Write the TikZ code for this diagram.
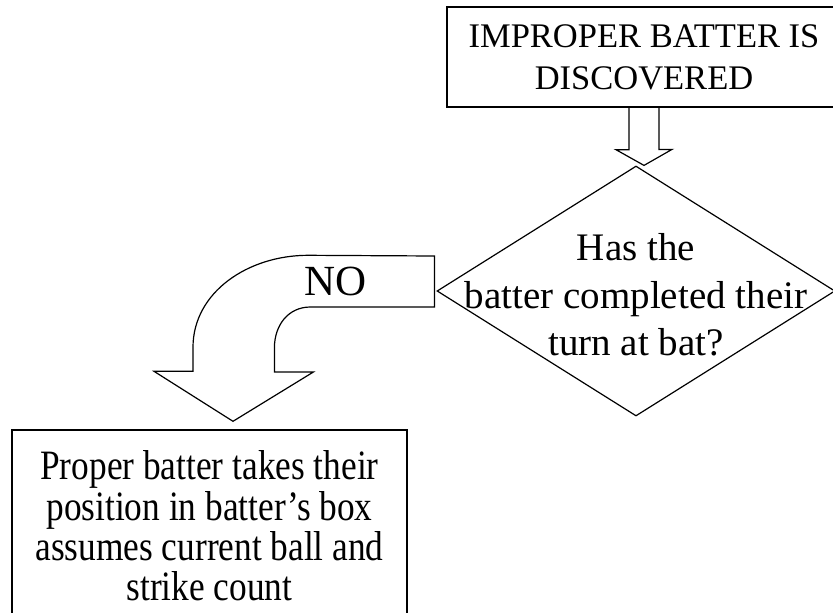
\documentclass[tikz,border=0pt]{standalone}
\usepackage{fontspec}
\setmainfont{Liberation Serif}
\newfontfamily\narrowserif[FakeStretch=0.845]{Liberation Serif}
\usetikzlibrary{positioning, calc, shapes.geometric}
\tikzset{
  flowbox/.style={draw, line width=1.4pt, align=center, inner sep=0pt},
  decision/.style={draw, diamond, line width=1.2pt, inner sep=0pt,
    minimum width=398pt, minimum height=250pt},
  blockarrow/.style={draw, line width=1.2pt, line join=miter},
  nolabel/.style={font=\fontsize{43}{50}\selectfont, inner sep=0pt},
}

\begin{document}
\begin{tikzpicture}[x=1pt, y=-1pt]
  \useasboundingbox (0,0) rectangle (833,613);
  \node[flowbox, minimum width=394pt, minimum height=100pt,
    font=\fontsize{34.5}{42}\selectfont] (start) at (644,57) {IMPROPER BATTER IS\\DISCOVERED};
  \node[decision] (check) at (636,291) {};
  \node[align=center, inner sep=0pt, font=\fontsize{39}{47.5}\selectfont]
    (checktext) at ($(check)+(0,4)$) {Has the\\batter completed their\\turn at bat?};
  \node[flowbox, minimum width=395pt, minimum height=192pt,
    font=\narrowserif\fontsize{41.8}{40.3}\selectfont] (proper) at (209.5,526)
    {Proper batter takes their\\position in batter’s box\\assumes current ball and\\strike count};
  % block arrow down to the question
  \draw[blockarrow] ($(start.south)+(-15,0)$) -- ++(0,42) -- ++(-13,0)
    -- (start.south |- check.north) -- ++(28,-16) -- ++(-13,0)
    -- ($(start.south)+(15,0)$);
  % bent block arrow for the NO branch
  \coordinate (nostart) at ($(check.west)+(-2,0)$);
  \coordinate (notip) at ($(proper.north)+(23.5,-8)$);
  \draw[blockarrow] (nostart) ++(0,-35) -- ++(0,51) -- ++(-124,0)
    .. controls +(-22,0) and +(0,-23) .. ++(-36,41)
    -- ++(0,24) -- ++(39,0) -- (notip) -- ++(-79,-50) -- ++(39,0) -- ++(0,-24)
    .. controls +(0,-55) and +(-60,0) .. ++(115,-92) -- cycle;
  \node[nolabel] (no) at (336,281) {NO};
\end{tikzpicture}
\end{document}
